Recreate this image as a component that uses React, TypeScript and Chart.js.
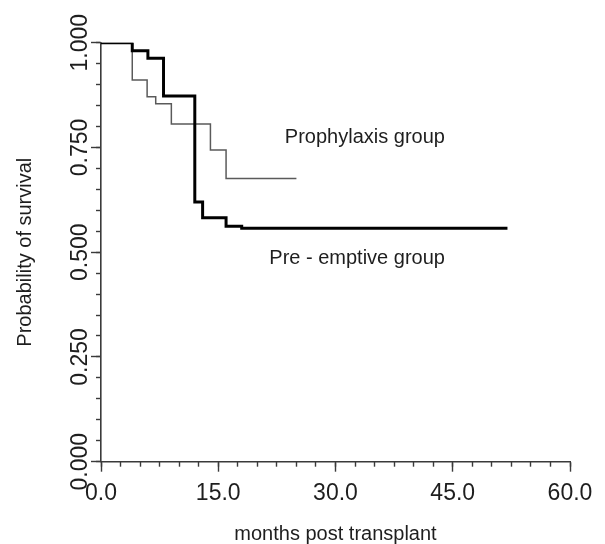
import React, { useEffect, useRef } from "react";
import { Chart, registerables } from "chart.js";

Chart.register(...registerables);

// Kaplan-Meier step data (months post transplant, probability of survival)
const preEmptiveMonths = [0, 4, 6, 8, 12, 13, 16, 18, 52];
const preEmptiveSurvival = [1, 0.981, 0.963, 0.873, 0.62, 0.582, 0.562, 0.557, 0.557];
const prophylaxisMonths = [0, 4, 5.9, 7, 9, 14, 16, 25];
const prophylaxisSurvival = [1, 0.911, 0.871, 0.854, 0.806, 0.744, 0.676, 0.676];

const seriesNames = ["Pre - emptive group", "Prophylaxis group"];
const labelMonths = [44, 44];
const labelSurvival = [0.472, 0.76];

const xTitle = "months post transplant";
const yTitle = "Probability of survival";

const FONT = "'Liberation Sans', Arial, Helvetica, sans-serif";
const AXIS_COLOR = "#3a3a3a";
const TEXT_COLOR = "#1e1e1e";

const toPoints = (xs: number[], ys: number[]) => xs.map((x, i) => ({ x, y: ys[i] }));

const groupLabels = {
  id: "groupLabels",
  afterDatasetsDraw(chart: any) {
    const { ctx, scales } = chart;
    const xs = scales.x;
    const ys = scales.y;
    ctx.save();
    ctx.font = `20px ${FONT}`;
    ctx.fillStyle = TEXT_COLOR;
    ctx.textAlign = "right";
    ctx.textBaseline = "alphabetic";
    seriesNames.forEach((name, i) => {
      ctx.fillText(name, xs.getPixelForValue(labelMonths[i]), ys.getPixelForValue(labelSurvival[i]));
    });
    ctx.restore();
  },
};

export default function App() {
  const ref = useRef<HTMLCanvasElement | null>(null);

  useEffect(() => {
    if (!ref.current) return;
    const chart = new Chart(ref.current, {
      type: "line",
      data: {
        datasets: [
          {
            label: seriesNames[0],
            data: toPoints(preEmptiveMonths, preEmptiveSurvival),
            stepped: "before",
            borderColor: "#000000",
            borderWidth: 3,
            pointRadius: 0,
            fill: false,
            xAxisID: "x",
            yAxisID: "y",
          },
          {
            label: seriesNames[1],
            data: toPoints(prophylaxisMonths, prophylaxisSurvival),
            stepped: "before",
            borderColor: "#5a5a5a",
            borderWidth: 1.5,
            pointRadius: 0,
            fill: false,
            xAxisID: "x",
            yAxisID: "y",
          },
        ],
      },
      options: {
        animation: false,
        responsive: true,
        maintainAspectRatio: false,
        layout: { padding: { left: 0, right: 35, top: 42.7, bottom: 0 } },
        plugins: {
          legend: { display: false },
          tooltip: { enabled: false },
        },
        scales: {
          x: {
            type: "linear",
            position: "bottom",
            weight: 1,
            min: 0,
            max: 60,
            afterFit: (s: any) => {
              s.height = 82.3;
            },
            border: { display: true, color: AXIS_COLOR, width: 1.6 },
            grid: {
              drawOnChartArea: false,
              drawTicks: true,
              tickLength: 10,
              tickColor: AXIS_COLOR,
              tickWidth: 1.4,
            },
            ticks: {
              stepSize: 15,
              autoSkip: false,
              maxRotation: 0,
              minRotation: 0,
              padding: 8,
              color: TEXT_COLOR,
              font: { family: FONT, size: 23 },
              callback: (v: any) => Number(v).toFixed(1),
            },
            title: {
              display: true,
              text: xTitle,
              color: TEXT_COLOR,
              font: { family: FONT, size: 20, lineHeight: 1 },
              padding: { top: 0, bottom: 0 },
            },
          },
          xMinor: {
            type: "linear",
            position: "bottom",
            weight: 0,
            min: 0,
            max: 60,
            afterFit: (s: any) => {
              s.height = 0;
            },
            border: { display: false },
            grid: {
              drawOnChartArea: false,
              drawTicks: true,
              tickLength: 5,
              tickColor: AXIS_COLOR,
              tickWidth: 1.4,
            },
            ticks: { display: false, stepSize: 2.5, autoSkip: false, maxTicksLimit: 100 },
          },
          y: {
            type: "linear",
            position: "left",
            weight: 1,
            min: 0,
            max: 1,
            afterFit: (s: any) => {
              s.width = 101;
            },
            border: { display: true, color: AXIS_COLOR, width: 1.6 },
            grid: {
              drawOnChartArea: false,
              drawTicks: true,
              tickLength: 10,
              tickColor: AXIS_COLOR,
              tickWidth: 1.4,
            },
            ticks: {
              stepSize: 0.25,
              autoSkip: false,
              minRotation: 90,
              maxRotation: 90,
              crossAlign: "center",
              padding: -18,
              color: TEXT_COLOR,
              font: { family: FONT, size: 23 },
              callback: (v: any) => Number(v).toFixed(3),
            },
            title: {
              display: true,
              text: yTitle,
              color: TEXT_COLOR,
              font: { family: FONT, size: 20, lineHeight: 1 },
              padding: { top: 15, bottom: 0 },
            },
          },
          yMinor: {
            type: "linear",
            position: "left",
            weight: 0,
            min: 0,
            max: 1,
            afterFit: (s: any) => {
              s.width = 0;
            },
            border: { display: false },
            grid: {
              drawOnChartArea: false,
              drawTicks: true,
              tickLength: 5,
              tickColor: AXIS_COLOR,
              tickWidth: 1.4,
            },
            ticks: { display: false, stepSize: 0.05, autoSkip: false, maxTicksLimit: 100 },
          },
        },
      },
      plugins: [groupLabels],
    } as any);
    return () => chart.destroy();
  }, []);

  return (
    <div style={{ position: "fixed", left: 0, top: 0, width: 605, height: 544, background: "#ffffff" }}>
      <canvas ref={ref} />
    </div>
  );
}
